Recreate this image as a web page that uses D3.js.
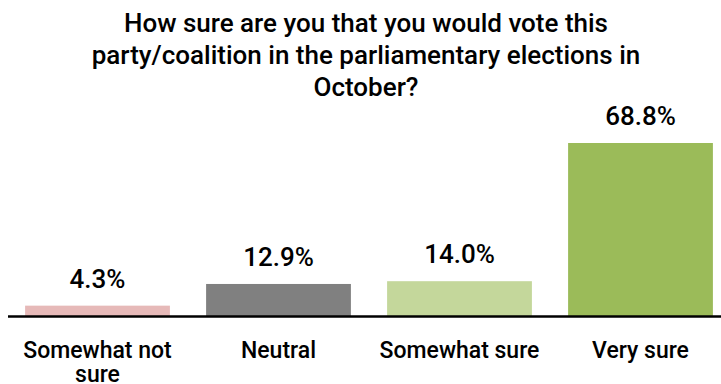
<!DOCTYPE html>
<html>
<head>
<meta charset="utf-8">
<script src="https://cdn.jsdelivr.net/npm/d3@7"></script>
<style>
  html, body { margin: 0; padding: 0; background: #fff; }
  svg { display: block; }
  text { font-family: Roboto, "Noto Sans", sans-serif; fill: #000; }
</style>
</head>
<body>
<svg id="chart" width="721" height="384"></svg>
<script>
// Survey answers and their shares (%)
const categories = ["Somewhat not sure", "Neutral", "Somewhat sure", "Very sure"];
const values = [4.3, 12.9, 14.0, 68.8];
const colors = ["#E6B9B8", "#808080", "#C4D79B", "#9BBB59"];
const titleLines = [
  "How sure are you that you would vote this",
  "party/coalition in the parliamentary elections in",
  "October?"
];
// Category labels wrapped onto lines
const categoryLines = [["Somewhat not", "sure"], ["Neutral"], ["Somewhat sure"], ["Very sure"]];

const svg = d3.select("#chart");
const W = 721;

const x = d3.scaleBand()
  .domain(categories)
  .range([7, 731])
  .paddingInner(0.2)
  .paddingOuter(0.1);

const y = d3.scaleLinear()
  .domain([0, 68.8])
  .range([316.5, 143]);

// Title
svg.append("g")
  .selectAll("text")
  .data(titleLines)
  .join("text")
  .attr("x", 366)
  .attr("y", (d, i) => 32 + i * 32)
  .attr("text-anchor", "middle")
  .attr("font-size", 26)
  .attr("font-weight", 500)
  .text(d => d);

// Bars
svg.append("g")
  .selectAll("rect")
  .data(values)
  .join("rect")
  .attr("x", (d, i) => x(categories[i]))
  .attr("width", x.bandwidth())
  .attr("y", d => y(d))
  .attr("height", d => y(0) - y(d))
  .attr("fill", (d, i) => colors[i]);

// Value labels
svg.append("g")
  .selectAll("text")
  .data(values)
  .join("text")
  .attr("x", (d, i) => x(categories[i]) + x.bandwidth() / 2)
  .attr("y", d => y(d) - 18)
  .attr("text-anchor", "middle")
  .attr("font-size", 26)
  .attr("font-weight", 500)
  .text(d => d.toFixed(1) + "%");

// Baseline axis
const axis = svg.append("g")
  .attr("transform", `translate(0,${y(0)})`)
  .call(d3.axisBottom(x).tickSize(0).tickFormat(""));
axis.select(".domain")
  .attr("d", `M8,0H${W}`)
  .attr("stroke", "#000")
  .attr("stroke-width", 2.5);

// Category labels under the axis
const cat = svg.append("g")
  .selectAll("text")
  .data(categories)
  .join("text")
  .attr("x", d => x(d) + x.bandwidth() / 2)
  .attr("y", 358)
  .attr("text-anchor", "middle")
  .attr("font-size", 23)
  .attr("font-weight", 500);
cat.each(function(d, i) {
  d3.select(this).selectAll("tspan")
    .data(categoryLines[i])
    .join("tspan")
    .attr("x", x(d) + x.bandwidth() / 2)
    .attr("dy", (t, j) => j === 0 ? 0 : 24)
    .text(t => t);
});
</script>
</body>
</html>
